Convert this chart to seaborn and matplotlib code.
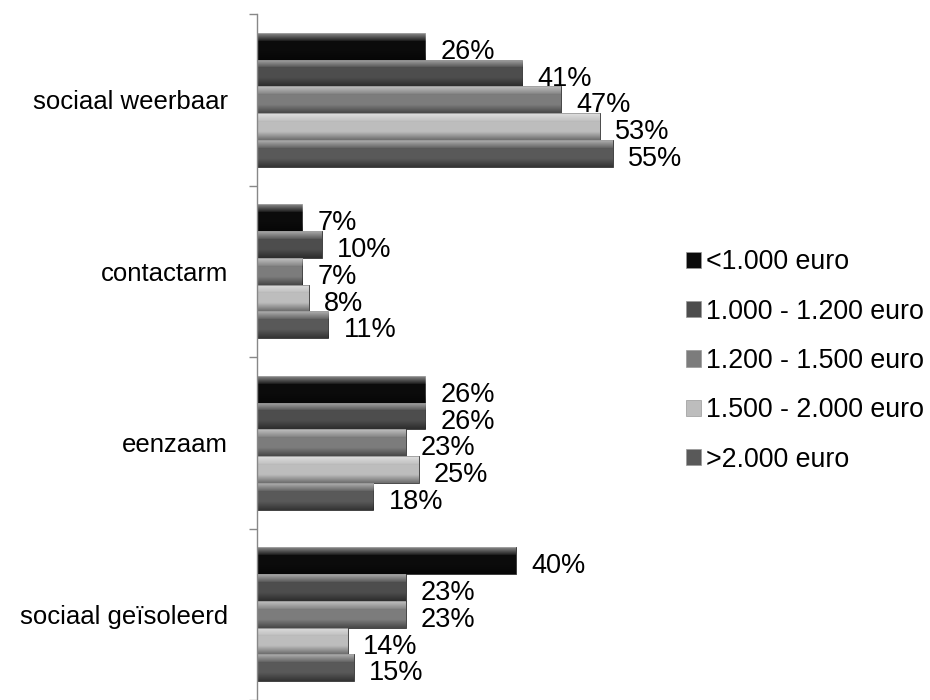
import numpy as np
import pandas as pd
import matplotlib
matplotlib.use("Agg")
import matplotlib.pyplot as plt
import matplotlib.patches as mpatches
import seaborn as sns

# data (percentages)
categories = ["sociaal weerbaar", "contactarm", "eenzaam", "sociaal geïsoleerd"]
groups = ["<1.000 euro", "1.000 - 1.200 euro", "1.200 - 1.500 euro",
          "1.500 - 2.000 euro", ">2.000 euro"]
lt_1000 = [26, 7, 26, 40]
e1000_1200 = [41, 10, 26, 23]
e1200_1500 = [47, 7, 23, 23]
e1500_2000 = [53, 8, 25, 14]
gt_2000 = [55, 11, 18, 15]
colors = ["#0b0b0b", "#4d4d4d", "#7c7c7c", "#bdbdbd", "#595959"]

values = [lt_1000, e1000_1200, e1200_1500, e1500_2000, gt_2000]
df = pd.DataFrame([
    {"categorie": c, "inkomen": g, "pct": v[i]}
    for g, v in zip(groups, values)
    for i, c in enumerate(categories)
])

sns.set_style("white")
plt.rcParams["font.family"] = ["Liberation Sans", "DejaVu Sans"]
plt.rcParams["text.color"] = "black"
plt.rcParams["ytick.color"] = "black"

fig = plt.figure(figsize=(9.3, 7), dpi=100)
ax = fig.add_axes([257 / 930, 0, 388 / 930, 686 / 700])

sns.barplot(data=df, y="categorie", x="pct", hue="inkomen", order=categories,
            hue_order=groups, palette=colors, orient="h", width=0.78,
            saturation=1, edgecolor="#333333", linewidth=0.6, legend=False, ax=ax)

# bevel-like shading on each bar
prof = np.concatenate([np.linspace(0.5, 0.1, 6), np.zeros(8), np.linspace(0.05, 0.4, 6)])
sign = np.concatenate([np.ones(6), np.zeros(8), -np.ones(6)])
grad = np.zeros((len(prof), 1, 4))
grad[:, 0, :3] = np.where(sign[:, None] > 0, 1.0, 0.0)
grad[:, 0, 3] = prof
for cont in ax.containers:
    for bar in cont:
        x0, y0 = bar.get_x(), bar.get_y()
        w, h = bar.get_width(), bar.get_height()
        im = ax.imshow(grad, extent=[x0, x0 + w, y0 + h, y0], aspect="auto",
                       interpolation="bilinear", zorder=bar.get_zorder() + 0.1)
        im.set_clip_path(bar)
    txts = ax.bar_label(cont, labels=[f"{v:.0f}%" for v in cont.datavalues],
                        padding=11, fontsize=19.5, color="black")
    for t in txts:
        t.xyann = (11, -4)

ax.set_xlim(0, 60)
ax.set_ylim(3.5, -0.5)
ax.set_xlabel("")
ax.set_ylabel("")
ax.set_xticks([])
ax.tick_params(axis="y", which="major", left=False, length=0, labelsize=18.5,
               pad=21, labelcolor="black")
ax.set_yticks(np.arange(len(categories) + 1) - 0.5, minor=True)
ax.tick_params(axis="y", which="minor", left=True, length=6, color="#888888", width=1)
for s in ["top", "right", "bottom"]:
    ax.spines[s].set_visible(False)
ax.spines["left"].set_color("#888888")
ax.spines["left"].set_linewidth(1)

handles = [mpatches.Patch(facecolor=c, edgecolor="#999999", linewidth=0.5) for c in colors]
fig.legend(handles, groups, loc="center left", bbox_to_anchor=(686 / 930, 1 - 361 / 700),
           frameon=False, fontsize=19.3, handlelength=0.55, handleheight=0.55,
           handletextpad=0.2, labelspacing=0.87, borderaxespad=0, borderpad=0)

fig.savefig("out.png", dpi=100)
